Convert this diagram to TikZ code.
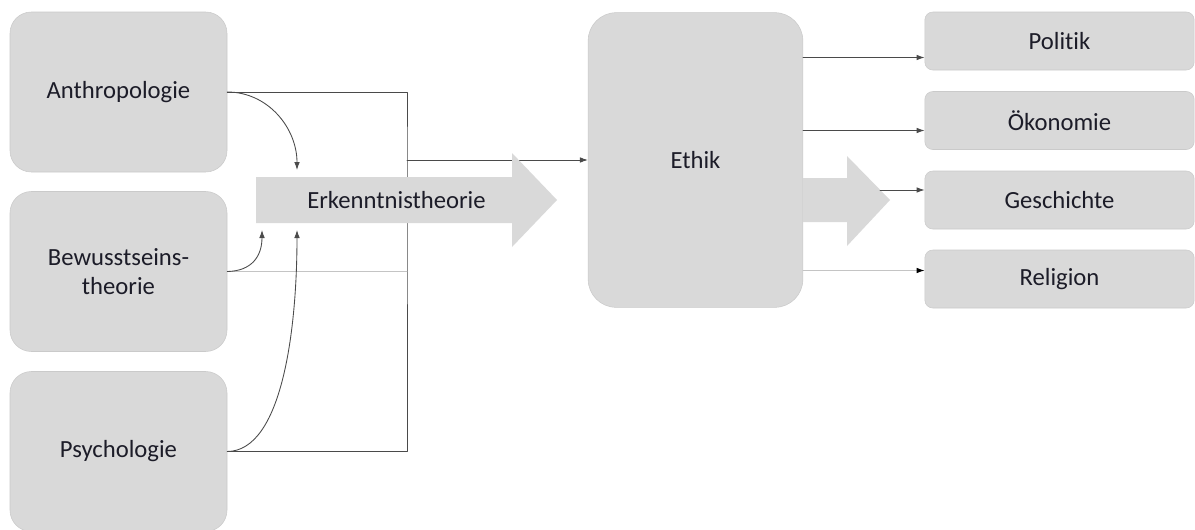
\documentclass[tikz,border=0pt]{standalone}
\usepackage{fontspec}
\setmainfont{Carlito}[Ligatures=NoCommon]
\usetikzlibrary{arrows.meta,calc,positioning}
\definecolor{boxfill}{HTML}{D9D9D9}
\definecolor{boxline}{HTML}{CACACA}
\definecolor{lineink}{HTML}{4A4A4A}
\definecolor{linelight}{HTML}{C4C4C4}
\definecolor{textink}{HTML}{1C1C28}

\begin{document}
\begin{tikzpicture}[x=0.75pt,y=-0.75pt,line cap=round,line join=round,
  >={Latex[length=6pt,width=4.2pt]},
  font=\fontsize{18.5}{22}\selectfont,text=textink,
  fach/.style={draw=boxline,fill=boxfill,rounded corners=16pt,align=center,
    minimum width=162.75pt,minimum height=120pt,inner sep=0pt},
  feld/.style={draw=boxline,fill=boxfill,rounded corners=6pt,
    minimum width=202pt,minimum height=43.5pt,inner sep=0pt},
  link/.style={lineink,line width=0.65pt},
  faint/.style={linelight,line width=0.65pt,-{Latex[length=6pt,width=4.2pt,color=black]}},
  bigarrow/.style={fill=boxfill}]
\path[use as bounding box] (0,0) rectangle (1195,529);
\fill[white] (0,0) rectangle (1195,529);
% Grundlagenfaecher links
\node[fach] (anth) at (118.5,92) {Anthropologie};
\node[fach] (bew) at (118.5,271.5) {Bewusstseins-\\theorie};
\node[fach] (psy) at (118.5,451.5) {Psychologie};
% Ethik in der Mitte, Anwendungsfelder rechts
\node[draw=boxline,fill=boxfill,rounded corners=21pt,minimum width=161pt,
  minimum height=221pt,inner sep=0pt] (ethik) at (695.5,160) {Ethik};
\node[feld] (pol) at (1059.5,41) {Politik};
\node[feld] (oek) at (1059.5,120.5) {Ökonomie};
\node[feld] (gesch) at (1059.5,200) {Geschichte};
\node[feld] (rel) at (1059.5,279) {Religion};
\coordinate (sammel) at (407,160);
\coordinate (erkA) at (297,170);
\coordinate (erkB) at (262,230);
\coordinate (erkC) at (297,230);
\coordinate (geschOut) at (880,190);
% Sammelleitung zur Ethik
\draw[link] (anth.east) -| (sammel) |- (psy.east);
\draw[linelight,line width=0.65pt] (bew.east) -- (bew.east -| sammel);
\draw[link,->] (sammel) -- (ethik.west);
% gebogene Pfeile zur Erkenntnistheorie
\draw[link,->] (anth.east) .. controls (268,92) and (297,128) .. (erkA);
\draw[link,->] (bew.east) .. controls (252,271) and (262,256) .. (erkB);
\draw[link,->] (psy.east) .. controls (282,451) and (297,330) .. (erkC);
% Pfeile zu den Feldern
\path ($(pol.west)+(0,16.5)$) coordinate (polIn)
      ($(oek.west)+(0,10)$) coordinate (oekIn)
      ($(rel.west)+(0,-8.5)$) coordinate (relIn);
\draw[link,->] (polIn -| ethik.east) -- (polIn);
\draw[link,->] (oekIn -| ethik.east) -- (oekIn);
\draw[faint] (relIn -| ethik.east) -- (relIn);
% breite Pfeile
\fill[bigarrow] (256,177) -- (512,177) -- (512,153) -- (557,200) -- (512,247)
  -- (512,223) -- (256,223) -- cycle;
\fill[bigarrow] (ethik.east |- 0,178) -- (847,178) -- (847,156) -- (890,200)
  -- (847,246) -- (847,222) -- (ethik.east |- 0,222) -- cycle;
\draw[link,->] (geschOut) -- (geschOut -| gesch.west);
\node (erk) at (396.5,200) {Erkenntnistheorie};
\end{tikzpicture}
\end{document}
